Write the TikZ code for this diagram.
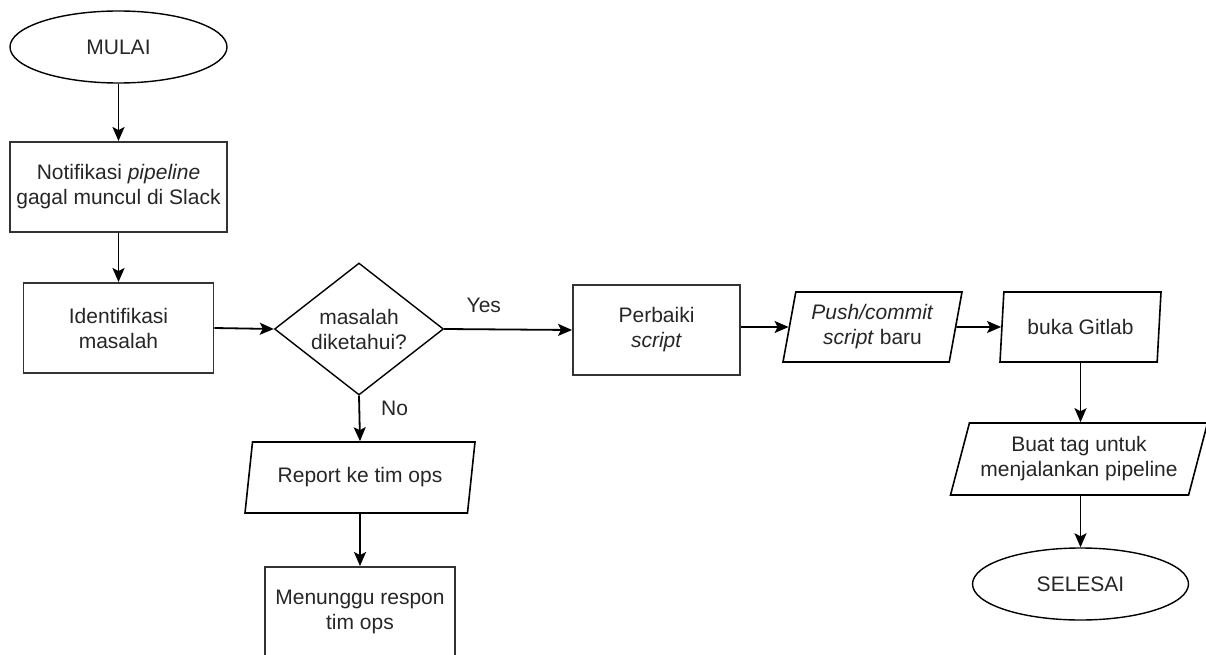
\documentclass[tikz,border=0pt]{standalone}
\usepackage{fontspec}
\setmainfont{Liberation Sans}
\usetikzlibrary{shapes.geometric,arrows.meta}

\begin{document}
\begin{tikzpicture}[x=1pt,y=-1pt,
  every node/.style={font=\fontsize{21}{25}\selectfont, text=black!85, align=center, inner sep=0pt},
  terminal/.style={draw, ellipse, minimum width=217pt, minimum height=72pt, line width=1.4pt},
  process/.style={draw=black!80, rectangle, minimum height=90pt, line width=1.9pt},
  decision/.style={draw, diamond, aspect=1.28, minimum width=169pt, minimum height=132pt, line width=1.4pt},
  io/.style={draw, trapezium, trapezium stretches body, line width=1.6pt},
  flow/.style={-{Stealth[length=14pt,width=12pt,inset=3pt]}, line width=1.8pt},
  tag/.style={font=\fontsize{21}{25}\selectfont, text=black!85}
]
\useasboundingbox (0,0) rectangle (1206,655);
\clip (0,0) rectangle (1206,655);

% start and first steps
\node[terminal] (mulai) at (118.5,47) {MULAI};
\node[process, minimum width=217pt] (notif) at (118.5,187) {Notifikasi \textit{pipeline}\\gagal muncul di Slack};
\node[process, minimum width=190pt] (ident) at (118.5,328) {Identifikasi\\masalah};
\node[decision] (cek) at (359,329) {masalah\\diketahui?};

% "No" branch
\node[io, trapezium left angle=69, trapezium right angle=111,
      minimum width=230pt, minimum height=71pt] (report) at (360,477.5) {Report ke tim ops};
\node[process, minimum width=190pt] (tunggu) at (360,612) {Menunggu respon\\tim ops};

% "Yes" branch
\node[process, minimum width=167pt] (fix) at (656.5,330) {Perbaiki\\\textit{script}};
\node[io, trapezium left angle=74, trapezium right angle=106,
      minimum width=179pt, minimum height=70pt] (push) at (872.5,327) {\textit{Push/commit}\\\textit{script} baru};
\node[io, trapezium left angle=76, trapezium right angle=104,
      minimum width=161pt, minimum height=70pt] (gitlab) at (1080.5,327) {buka Gitlab};
\node[io, trapezium left angle=67, trapezium right angle=113,
      minimum width=257pt, minimum height=72pt] (tag) at (1079,459) {Buat tag untuk\\menjalankan pipeline};
\node[terminal, minimum width=216pt] (selesai) at (1080.5,584) {SELESAI};

% connectors
\draw[flow] (mulai) -- (notif);
\draw[flow] (notif) -- (ident);
\draw[flow] (ident.east) -- (cek.west);
\draw[flow] (cek.east) -- node[tag, pos=0.31, above=16pt] {Yes} (fix.west);
\draw[flow] (cek.south) -- node[tag, pos=0.28, right=21pt] {No} (report.north);
\draw[flow] (report.south) -- (tunggu.north);
\draw[flow] (fix.east |- push.west) -- (push.west);
\draw[flow] (push.east) -- (gitlab.west);
\draw[flow] (gitlab.south) -- (gitlab.south |- tag.north);
\draw[flow] (selesai.north |- tag.south) -- (selesai.north);
\end{tikzpicture}
\end{document}
